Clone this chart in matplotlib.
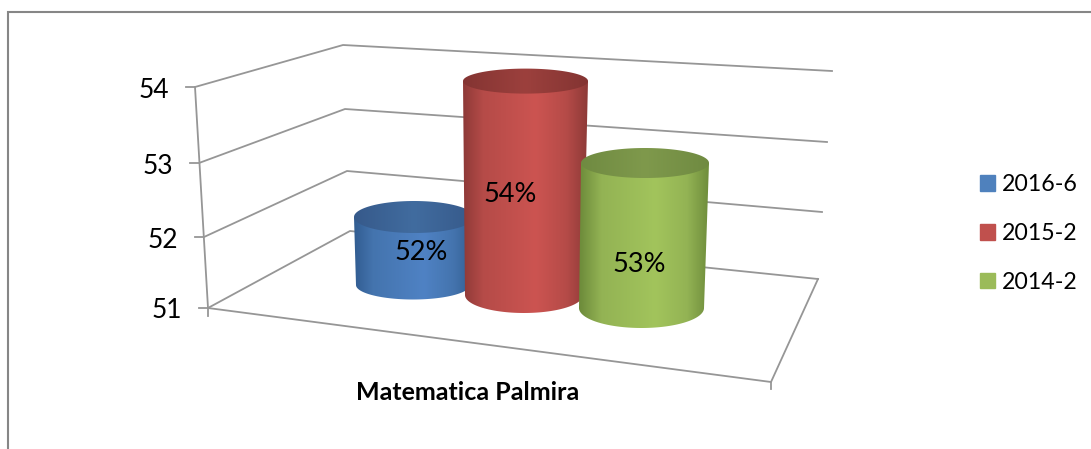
import numpy as np
import matplotlib.pyplot as plt
from matplotlib.colors import LinearSegmentedColormap
from matplotlib.patches import PathPatch, Patch
from matplotlib.path import Path

plt.rcParams["font.family"] = ["Lato", "DejaVu Sans"]

# data
title = "Matematica Palmira"
series = ["2016-6", "2015-2", "2014-2"]
values = [52, 54, 53]
labels = ["52%", "54%", "53%"]
ticks = [51, 52, 53, 54]

# colours: dark edge, mid, highlight, top dark edge, top highlight
blues = ["#2F5A8E", "#4474AE", "#4F82C4", "#36598A", "#416C9F"]
reds = ["#8A3836", "#B54B48", "#CC5451", "#833432", "#9C403D"]
greens = ["#6C8A3A", "#93B354", "#A2C45C", "#6F8A41", "#7F994C"]
colors = [blues, reds, greens]
legend_colors = ["#4F81BD", "#C0504D", "#9BBB59"]
grid_color = "#969696"

# the 3d box, pixel position of every tick on the three wall edges
front_x = [208, 204, 199, 195]
front_y = [308, 237, 163, 87]
back_x = [350, 347, 345, 343]
back_y = [231, 171, 109, 45]
right_x = [818, 822, 827, 832]
right_y = [279, 212, 142, 71]
floor_corner = (771, 382)

# cylinders: base centre, base and top half widths, ellipse heights, px per unit
cx_top = [414, 525.5, 645]
cx_base = [413, 524, 641.5]
hw_top = [60, 62.5, 64]
hw_base = [57, 59, 62.5]
base_y = [285, 295, 308]
unit_px = [68, 71.3, 72.5]
rx_top = [16, 12.5, 15]
rx_base = [14.5, 18, 20]
label_x = [421, 510, 639]
label_y = [253, 195, 265]

fig = plt.figure(figsize=(10.91, 4.49), dpi=100)
ax = fig.add_axes([0, 0, 1, 1])
ax.set_xlim(0, 1091)
ax.set_ylim(449, 0)
ax.axis("off")

# outer frame
ax.plot([8, 8, 1091], [449, 12, 12], color="#868686", lw=1.5, solid_joinstyle="miter")

# gridlines on the walls
for i, t in enumerate(ticks):
    ax.plot([front_x[i] - 9, front_x[i], back_x[i], right_x[i]],
            [front_y[i], front_y[i], back_y[i], right_y[i]],
            color=grid_color, lw=1.3)
    ax.text(front_x[i] - 25.5, front_y[i] + 3, str(t), ha="right", va="center",
            fontsize=19, color="black")

# vertical axis, floor and its ticks
ax.plot([front_x[-1], front_x[0], front_x[0]], [front_y[-1], front_y[0], front_y[0] + 8],
        color=grid_color, lw=1.3)
ax.plot([front_x[0], floor_corner[0], right_x[0]], [front_y[0], floor_corner[1], right_y[0]],
        color=grid_color, lw=1.3)
ax.plot([floor_corner[0], floor_corner[0]], [floor_corner[1], floor_corner[1] + 7],
        color=grid_color, lw=1.3)


def gradient(path, x0, x1, y0, y1, stops, z):
    cmap = LinearSegmentedColormap.from_list("c", stops)
    im = ax.imshow(np.linspace(0, 1, 256)[None, :], cmap=cmap, aspect="auto",
                   extent=[x0, x1, y1, y0], zorder=z)
    patch = PathPatch(path, fc="none", ec="none", transform=ax.transData, zorder=z)
    ax.add_patch(patch)
    im.set_clip_path(patch)


# blue first, then red, then green so each one covers the one before
for i, v in enumerate(values):
    top_y = base_y[i] - (v - ticks[0]) * unit_px[i]
    dark, mid, light, top_dark, top_light = colors[i]
    z = 3 + i
    x0 = cx_top[i] - hw_top[i] - 2
    x1 = cx_top[i] + hw_top[i] + 2

    ang = np.linspace(np.pi, 0, 80)
    low_x = cx_base[i] + hw_base[i] * np.cos(ang)
    low_y = base_y[i] + rx_base[i] * np.sin(ang)
    side_x = np.r_[low_x, cx_top[i] + hw_top[i], cx_top[i] - hw_top[i]]
    side_y = np.r_[low_y, top_y, top_y]
    side = Path(np.column_stack([side_x, side_y]))
    gradient(side, x0, x1, top_y - 4, base_y[i] + rx_base[i] + 4,
             [(0, dark), (0.17, mid), (0.58, light), (0.82, mid), (1, dark)], z)

    ang = np.linspace(0, 2 * np.pi, 120)
    top = Path(np.column_stack([cx_top[i] + hw_top[i] * np.cos(ang),
                                top_y + rx_top[i] * np.sin(ang)]))
    gradient(top, x0, x1, top_y - rx_top[i] - 4, top_y + rx_top[i] + 4,
             [(0, top_dark), (0.5, top_light), (1, top_dark)], z + 0.1)

    ax.text(label_x[i], label_y[i], labels[i], ha="center", va="center",
            fontsize=19.5, color="black", zorder=10)

ax.text(468, 393, title, ha="center", va="center", fontsize=18,
        fontweight="bold", color="black")

handles = [Patch(color=c, label=s) for c, s in zip(legend_colors, series)]
ax.legend(handles=handles, loc="center left", bbox_to_anchor=(980 / 1091, 1 - 233.5 / 449),
          frameon=False, fontsize=16.7, handlelength=0.65, handleheight=0.65,
          handletextpad=0.3, labelspacing=1.2, borderpad=0, borderaxespad=0)

fig.savefig("out.png", dpi=100)
